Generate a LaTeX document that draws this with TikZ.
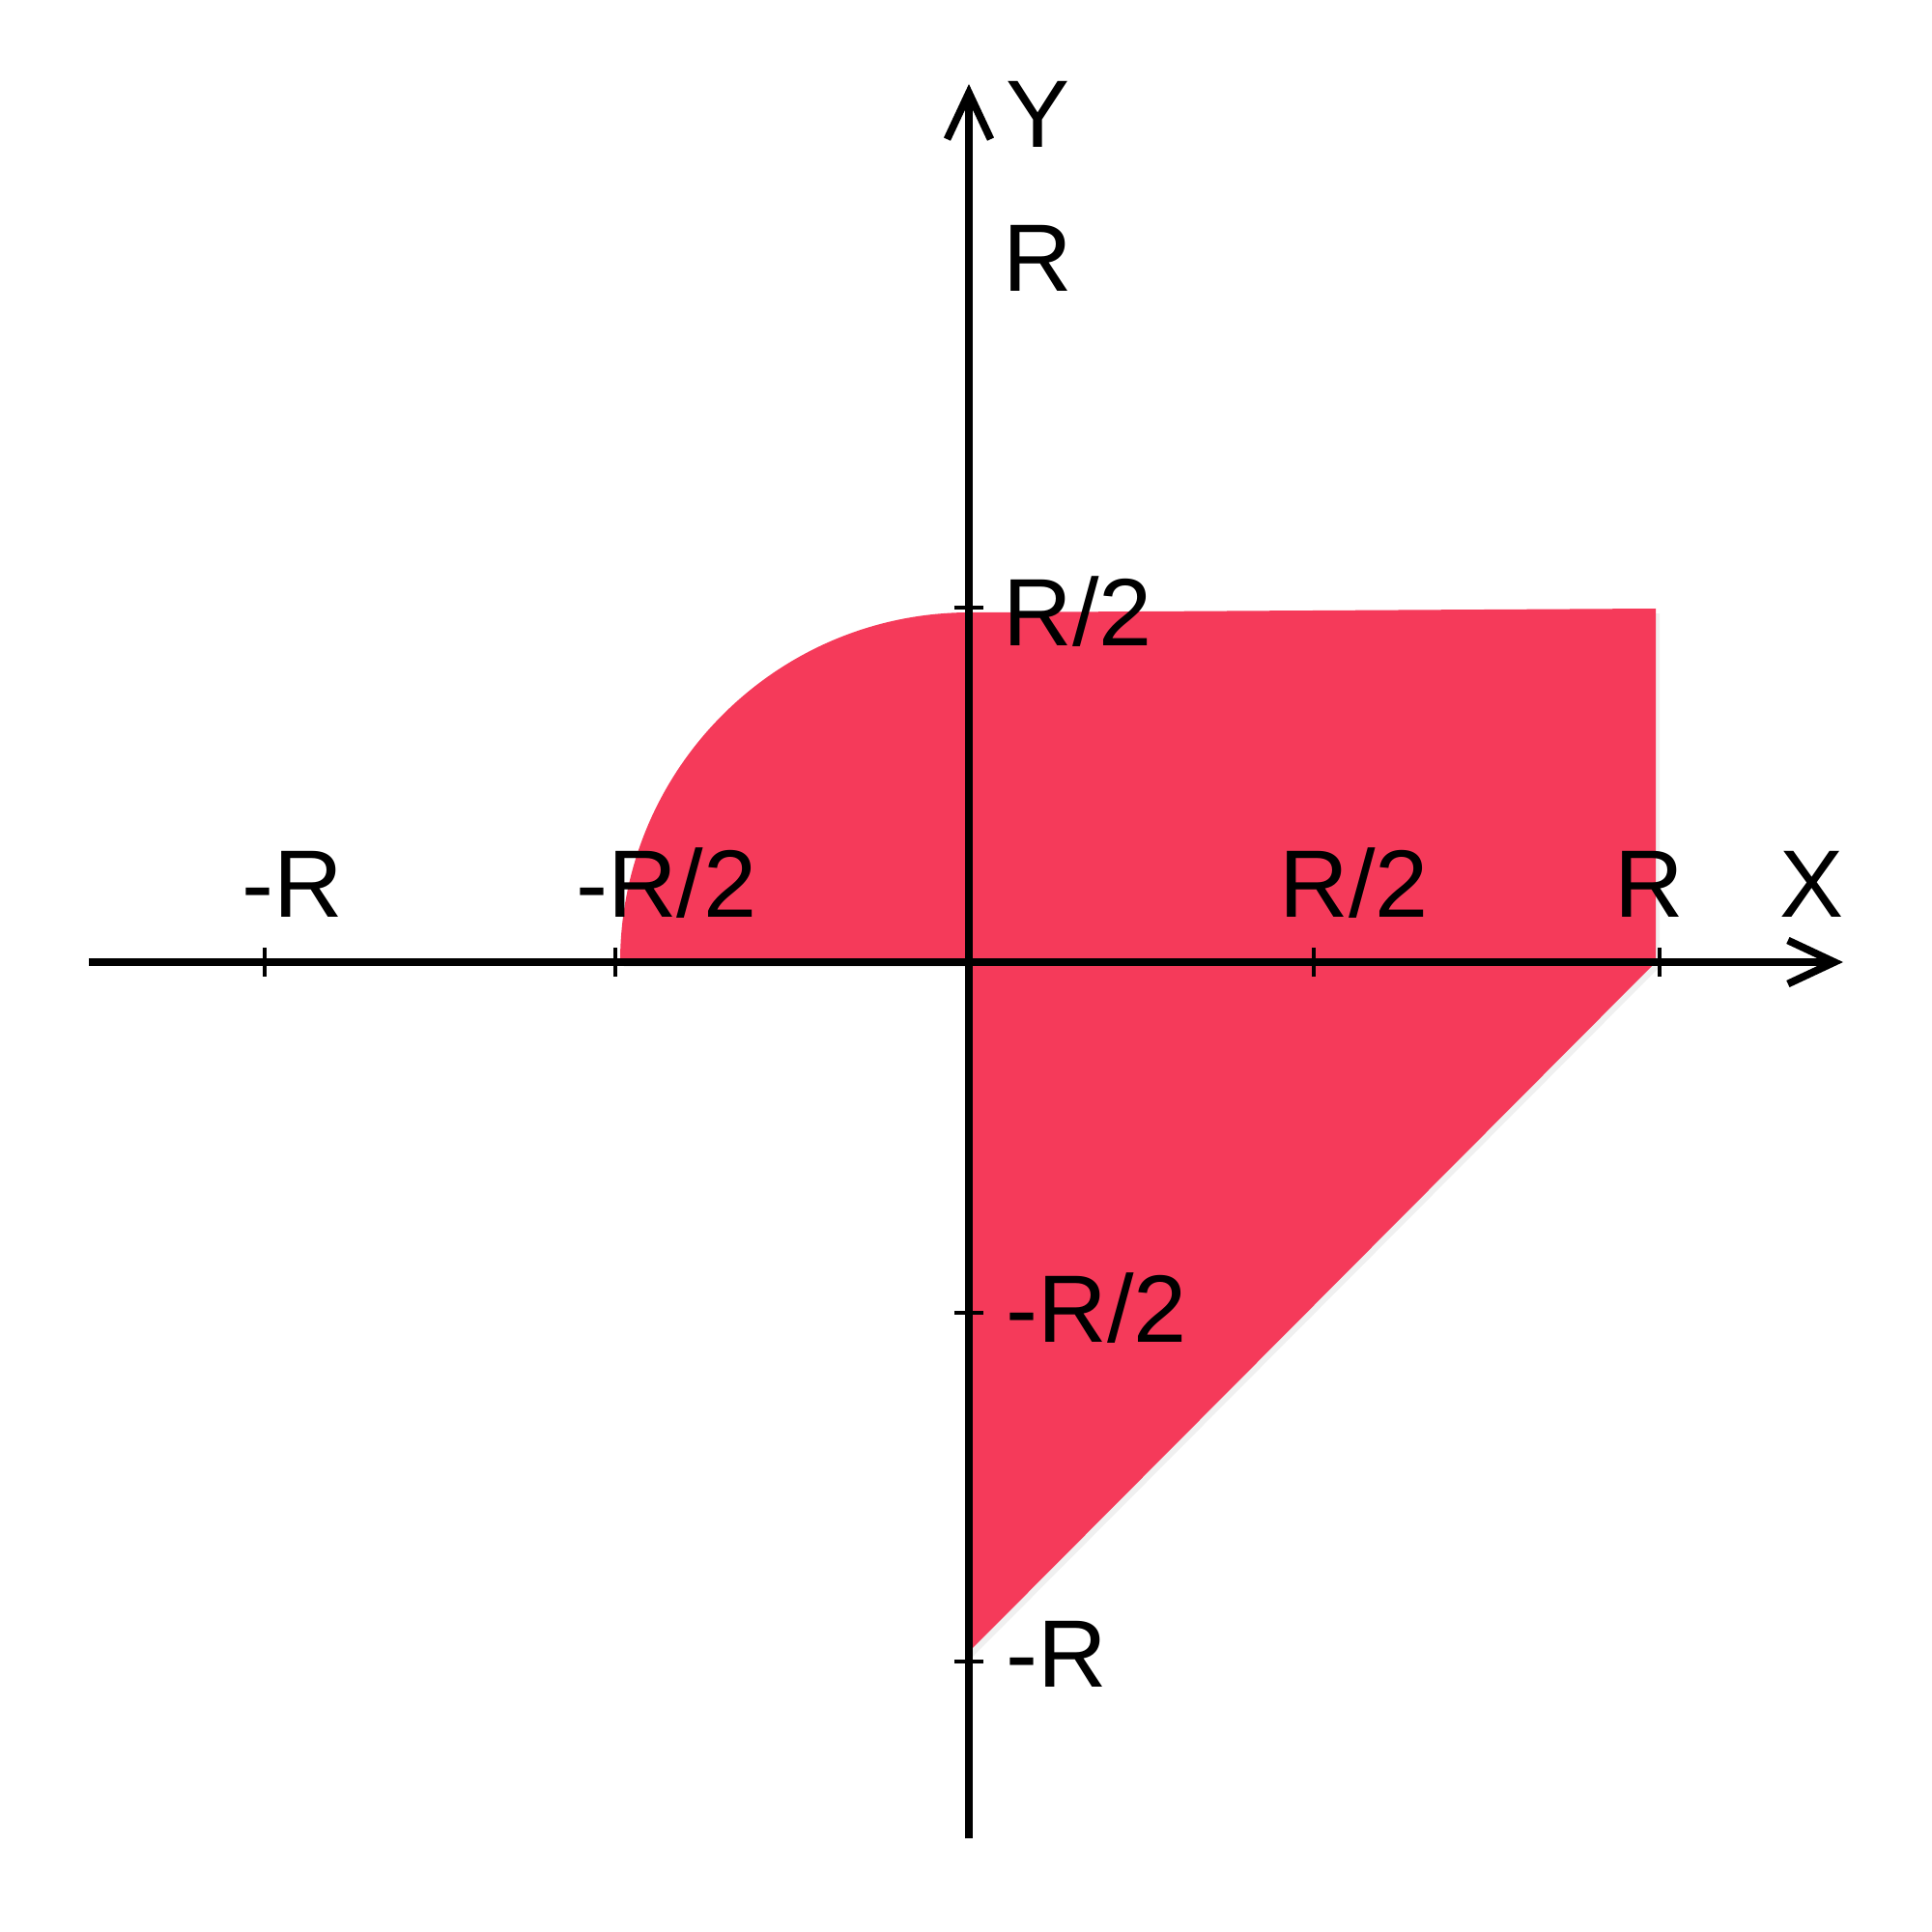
\documentclass[tikz,border=0pt]{standalone}
\usepackage{fontspec}
\setmainfont{Liberation Sans}
\usetikzlibrary{arrows.meta, shadows}
\definecolor{regionred}{HTML}{F53A5A}

\begin{document}
\begin{tikzpicture}[
        axis/.style={line width=2.2pt, -{Straight Barb[length=0.48cm, width=0.45cm]}},
        tick/.style={line width=0.9pt},
        lbl/.style={font=\fontsize{28.2}{34}\selectfont, inner sep=0pt},
        region/.style={fill=regionred, drop shadow={opacity=0.12, shadow xshift=0.04cm, shadow yshift=-0.05cm}}]
        \useasboundingbox (-10.03,-10.04) rectangle (9.97,9.96);

        % shaded region
        \fill[region] (-3.61,0) arc[start angle=180, end angle=90, radius=3.62]
            -- (7.11,3.66) -- (7.11,0) -- (0,-7.14) -- (0,0) -- cycle;

        % axes
        \coordinate (xmin) at (-9.11,0);
        \coordinate (xmax) at (9.05,0);
        \coordinate (ymin) at (0,-9.07);
        \coordinate (ymax) at (0,9.09);
        \draw[axis] (xmin) -- (xmax);
        \draw[axis] (ymin) -- (ymax);

        \foreach \x in {-7.29, -3.66, 3.57, 7.15}
            \draw[tick] (\x,-0.15) -- (\x,0.15);
        \foreach \y in {3.67, -3.63, -7.24}
            \draw[tick] (-0.15,\y) -- (0.15,\y);

        % labels
        \node[lbl, anchor=base] (xlbl) at (8.73,0.47) {X};
        \node[lbl, anchor=base] (ylbl) at (0.72,8.43) {Y};
        \node[lbl, anchor=base] (xmr) at (-7.0,0.47) {-R};
        \node[lbl, anchor=base] (xmh) at (-3.13,0.47) {-R/2};
        \node[lbl, anchor=base] (xph) at (3.99,0.47) {R/2};
        \node[lbl, anchor=base] (xpr) at (7.04,0.47) {R};
        \node[lbl, anchor=base west] (ypr) at (0.35,6.94) {R};
        \node[lbl, anchor=base west] (yph) at (0.35,3.28) {R/2};
        \node[lbl, anchor=base west] (ymh) at (0.38,-3.93) {-R/2};
        \node[lbl, anchor=base west] (ymr) at (0.38,-7.50) {-R};
    \end{tikzpicture}
\end{document}
